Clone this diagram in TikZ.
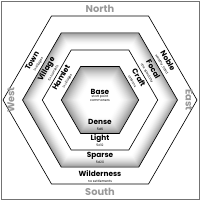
\documentclass[tikz,border=0pt]{standalone}
\usepackage{fontspec}
\setmainfont{Poppins}
\usetikzlibrary{positioning}
\newcommand{\hexpath}[1]{(0:#1) -- (60:#1) -- (120:#1) -- (180:#1) -- (240:#1) -- (300:#1) -- cycle}

\begin{document}
\begin{tikzpicture}[
  x=0.5mm, y=0.5mm,
  edge/.style={draw=black, line width=0.9pt},
  ttl/.style={font=\bfseries\fontsize{10.5}{11}\selectfont, inner sep=0pt},
  sub/.style={font=\fontsize{4.6}{5}\selectfont, inner sep=0pt},
  dir/.style={font=\bfseries\fontsize{14}{14}\selectfont, text=black!40, inner sep=0pt}]

\useasboundingbox (-100,-100) rectangle (100,100);
\draw[black!55, line width=0.6pt] (-99,-99) rectangle (99,99);

% the rings
\filldraw[edge, fill=white] \hexpath{97};
\foreach \i in {0,...,12}{
  \pgfmathsetmacro\tone{38*(1-\i/12)^1.6}
  \fill[black!\tone] \hexpath{77.5-1.15*\i};
}
\filldraw[edge, fill=white] \hexpath{57.7};
\foreach \i in {0,...,16}{
  \pgfmathsetmacro\tone{42*(1-\i/16)^1.6}
  \fill[black!\tone] \hexpath{38.7-1.15*\i};
}
\draw[edge] \hexpath{77.5};
\draw[edge] \hexpath{38.7};

% compass
\node[dir] (north) at (0,91) {North};
\node[dir] (south) at (0,-92) {South};
\node[dir, rotate=90] (west) at (-89,0) {West};
\node[dir, rotate=-90] (east) at (89,0) {East};

% bands, bottom
\node[ttl] (base) at (0,8.5) {Base};
\node[sub, below=1.5pt of base] (start) {start point};
\node[sub, below=1pt of start] (comm) {commoners};
\node[ttl] (dense) at (0,-22) {Dense};
\node[sub] (dense-d) at (0,-29) {5d6};
\node[ttl] (light) at (0,-38.5) {Light};
\node[sub] (light-d) at (0,-45.5) {5d12};
\node[ttl] (sparse) at (0,-55.5) {Sparse};
\node[sub] (sparse-d) at (0,-62.5) {5d20};
\node[ttl] (wild) at (0,-74) {Wilderness};
\node[sub] (wild-d) at (0,-81) {no settlements};

% bands, left
\node[ttl, rotate=60] (town) at (150:78.5) {Town};
\node[sub, rotate=60] (town-d) at (150:71) {1x villages};
\node[ttl, rotate=60] (village) at (150:61.5) {Village};
\node[sub, rotate=60] (village-d) at (150:54) {5x hamlets};
\node[ttl, rotate=60] (hamlet) at (150:45) {Hamlet};
\node[sub, rotate=60] (hamlet-d) at (150:37.5) {1x villages};

% bands, right
\node[ttl, rotate=-60] (noble) at (30:78.5) {Noble};
\node[sub, rotate=-60] (noble-d) at (30:71) {wealthy, titled};
\node[ttl, rotate=-60] (focal) at (30:61.5) {Focal};
\node[sub, rotate=-60] (focal-d) at (30:54) {one specialty};
\node[ttl, rotate=-60] (craft) at (30:45) {Craft};
\node[sub, rotate=-60] (craft-d) at (30:37.5) {artisans};

\end{tikzpicture}
\end{document}
